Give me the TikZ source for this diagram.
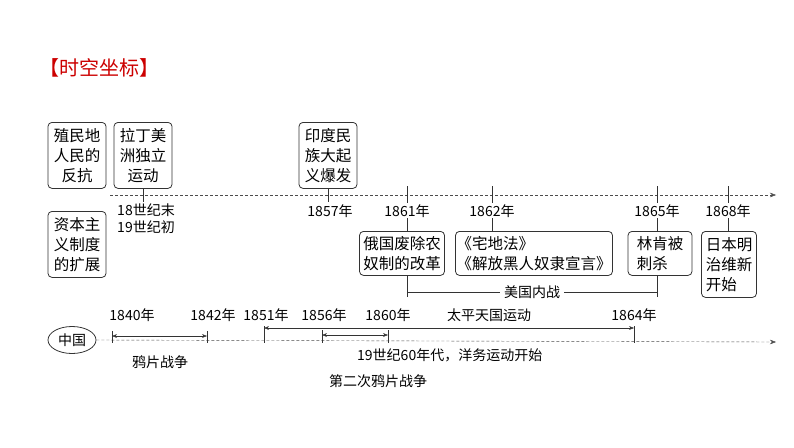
\documentclass[tikz,border=0pt]{standalone}
\usepackage{fontspec}
\setmainfont{Noto Sans CJK SC}
\usetikzlibrary{positioning,arrows.meta,shapes.geometric}
\definecolor{titlered}{RGB}{204,0,0}
\begin{document}
\begin{tikzpicture}[x=1pt,y=-1pt,
    eventbox/.style={rectangle, rounded corners=4pt, draw=black!80, thick, inner sep=1pt,
                     align=center, font=\fontsize{15.5}{20}\selectfont, anchor=north},
    yearlabel/.style={font=\fontsize{14}{17}\selectfont, inner sep=1pt},
    timeline/.style={densely dashed, draw=black!70, -{Stealth[length=6pt]}},
    tick/.style={draw=black!80},
    span/.style={draw=black!80, {Stealth[length=5pt]}-{Stealth[length=5pt]}},
  ]
  \useasboundingbox (0,0) rectangle (794,447);

  \node [font=\fontsize{20}{24}\selectfont, text=titlered, anchor=west] (title) at (36,68) {【时空坐标】};

  % world timeline
  \coordinate (wstart) at (110,195);
  \coordinate (wend) at (776,195);
  \draw [timeline] (wstart) -- (wend);

  \node [eventbox, minimum width=58pt, minimum height=66pt] (colony) at (77,122) {殖民地\\人民的\\反抗};
  \node [eventbox, minimum width=58pt, minimum height=66pt] (latin) at (143,122) {拉丁美\\洲独立\\运动};
  \node [eventbox, minimum width=58pt, minimum height=66pt] (capital) at (77,211) {资本主\\义制度\\的扩展};
  \node [eventbox, minimum width=58pt, minimum height=66pt] (india) at (328,122) {印度民\\族大起\\义爆发};

  \coordinate (t1800) at (143,202);
  \coordinate (t1857) at (328,202);
  \draw [tick] (latin.south) -- (t1800);
  \draw [tick] (india.south) -- (t1857);
  \node [yearlabel, anchor=north, align=left] (y1800) at (146,203) {18世纪末\\19世纪初};
  \node [yearlabel, anchor=north] (y1857) at (330,203) {1857年};

  \node [yearlabel, anchor=north] (y1861) at (407,203) {1861年};
  \node [yearlabel, anchor=north] (y1862) at (492,203) {1862年};
  \node [yearlabel, anchor=north] (y1865) at (657,203) {1865年};
  \node [yearlabel, anchor=north] (y1868) at (728,203) {1868年};
  \foreach \n/\x in {a/407,b/492,c/657,d/728}
    \draw [tick] (\x,186) coordinate (up\n) -- (\x,203) coordinate (dn\n);

  \node [eventbox, minimum width=85pt, minimum height=44pt] (russia) at (402,231) {俄国废除农\\奴制的改革};
  \node [eventbox, minimum width=153pt, minimum height=44pt, align=left] (homestead) at (534,231) {《宅地法》\\《解放黑人奴隶宣言》};
  \node [eventbox, minimum width=64pt, minimum height=44pt, align=left] (lincoln) at (660,231) {林肯被\\刺杀};
  \node [eventbox, minimum width=55pt, minimum height=66pt, align=left] (meiji) at (729,231) {日本明\\治维新\\开始};
  \draw [tick] (y1861.south) -- (y1861.south |- russia.north);
  \draw [tick] (y1862.south) -- (y1862.south |- homestead.north);
  \draw [tick] (y1865.south) -- (y1865.south |- lincoln.north);
  \draw [tick] (y1868.south) -- (y1868.south |- meiji.north);

  % american civil war
  \coordinate (cwl) at (407,297);
  \coordinate (cwr) at (657,297);
  \draw [tick] (407,275) -- (cwl);
  \draw [tick] (657,275) -- (cwr);
  \draw [tick] (407,292) -- (657,292) node [midway, fill=white, yearlabel, inner xsep=4pt] (civilwar) {美国内战};

  % china timeline
  \node [ellipse, draw=black!80, thick, minimum width=48pt, minimum height=27pt, inner sep=0pt,
         font=\fontsize{14}{17}\selectfont] (china) at (72,340) {中国};
  \coordinate (cend) at (776,342);
  \draw [timeline] (china.east) -- (cend);

  \foreach \x/\t in {112/331,207/331,264/326,322/330,388/330,634/326}
    \draw [tick] (\x,\t) -- (\x,343);
  \draw [span] (112,336) coordinate (w1) -- (207,336) coordinate (w2);
  \draw [span] (322,335) coordinate (s1) -- (388,335) coordinate (s2);
  \draw [span] (264,328) coordinate (tp1) -- (634,328) coordinate (tp2);

  \node [yearlabel] (y1840) at (132,315) {1840年};
  \node [yearlabel] (y1842) at (213,315) {1842年};
  \node [yearlabel] (y1851) at (266,315) {1851年};
  \node [yearlabel] (y1856) at (324,315) {1856年};
  \node [yearlabel] (y1860) at (388,315) {1860年};
  \node [yearlabel] (taiping) at (489,315) {太平天国运动};
  \node [yearlabel] (y1864) at (634,315) {1864年};

  \node [yearlabel] (opium) at (160,362) {鸦片战争};
  \node [yearlabel, anchor=west] (yangwu) at (356,355) {19世纪60年代，洋务运动开始};
  \node [yearlabel] (opium2) at (378,381) {第二次鸦片战争};
\end{tikzpicture}
\end{document}
